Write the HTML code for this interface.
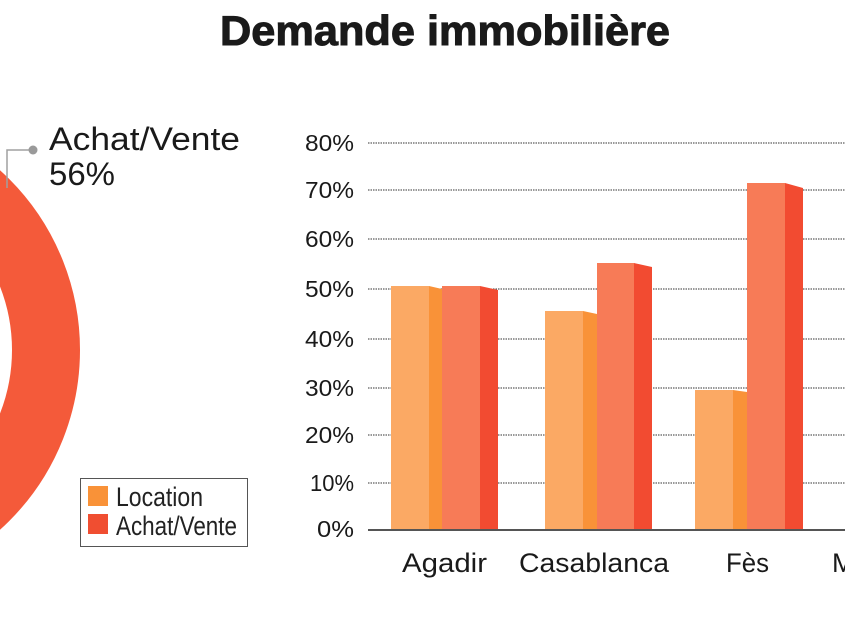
<!DOCTYPE html>
<html><head><meta charset="utf-8"><style>
html,body{margin:0;padding:0;background:#fff;width:845px;height:619px;overflow:hidden}
svg{display:block}
</style></head><body>
<svg width="845" height="619" xmlns="http://www.w3.org/2000/svg" font-family="Liberation Sans, sans-serif">
<text x="445" y="45" text-anchor="middle" font-size="42" font-weight="bold" fill="#1a1a1a" stroke="#1a1a1a" stroke-width="1" textLength="450" lengthAdjust="spacingAndGlyphs">Demande immobilière</text>
<!-- donut -->
<circle cx="-162" cy="350" r="208" fill="none" stroke="#f45a3a" stroke-width="68"/>
<polyline points="7,188 7,150 33,150" fill="none" stroke="#a0a0a0" stroke-width="1.5"/>
<circle cx="33" cy="150" r="4.5" fill="#9a9a9a"/>
<text x="49" y="150" font-size="32" fill="#1a1a1a" textLength="191" lengthAdjust="spacingAndGlyphs">Achat/Vente</text>
<text x="49" y="185" font-size="32" fill="#1a1a1a" textLength="66" lengthAdjust="spacingAndGlyphs">56%</text>
<!-- legend -->
<rect x="80.5" y="478.5" width="167" height="68" fill="#fff" stroke="#555" stroke-width="1"/>
<rect x="88" y="486" width="20" height="20" fill="#f99238"/>
<rect x="88" y="514" width="20" height="20" fill="#f04e31"/>
<text x="116" y="506" font-size="27" fill="#222" textLength="87" lengthAdjust="spacingAndGlyphs">Location</text>
<text x="116" y="535" font-size="27" fill="#222" textLength="121" lengthAdjust="spacingAndGlyphs">Achat/Vente</text>
<!-- grid -->
<g stroke="#333" stroke-width="1" stroke-dasharray="1.5,1">
<line x1="368" y1="143" x2="845" y2="143"/>
<line x1="368" y1="190" x2="845" y2="190"/>
<line x1="368" y1="239" x2="845" y2="239"/>
<line x1="368" y1="289" x2="845" y2="289"/>
<line x1="368" y1="339" x2="845" y2="339"/>
<line x1="368" y1="388" x2="845" y2="388"/>
<line x1="368" y1="435" x2="845" y2="435"/>
<line x1="368" y1="483" x2="845" y2="483"/>
</g>
<g font-size="23" fill="#1a1a1a" text-anchor="end">
<text x="354" y="151" textLength="49" lengthAdjust="spacingAndGlyphs">80%</text>
<text x="354" y="198" textLength="49" lengthAdjust="spacingAndGlyphs">70%</text>
<text x="354" y="247" textLength="49" lengthAdjust="spacingAndGlyphs">60%</text>
<text x="354" y="297" textLength="49" lengthAdjust="spacingAndGlyphs">50%</text>
<text x="354" y="347" textLength="49" lengthAdjust="spacingAndGlyphs">40%</text>
<text x="354" y="396" textLength="49" lengthAdjust="spacingAndGlyphs">30%</text>
<text x="354" y="443" textLength="49" lengthAdjust="spacingAndGlyphs">20%</text>
<text x="354" y="491" textLength="44" lengthAdjust="spacingAndGlyphs">10%</text>
<text x="354" y="537" textLength="37" lengthAdjust="spacingAndGlyphs">0%</text>
</g>
<!-- bars -->
<g>
<rect x="391" y="286" width="38" height="244" fill="#fba964"/>
<polygon points="429,286 442,289 442,530 429,530" fill="#f99238"/>
<rect x="442" y="286" width="38" height="244" fill="#f77b57"/>
<polygon points="480,286 498,290 498,530 480,530" fill="#f24b31"/>

<rect x="545" y="311" width="38" height="219" fill="#fba964"/>
<polygon points="583,311 597,314 597,530 583,530" fill="#f99238"/>
<rect x="597" y="263" width="37" height="267" fill="#f77b57"/>
<polygon points="634,263 652,267 652,530 634,530" fill="#f24b31"/>

<rect x="695" y="390" width="38" height="140" fill="#fba964"/>
<polygon points="733,390 747,392 747,530 733,530" fill="#f99238"/>
<rect x="747" y="183" width="38" height="347" fill="#f77b57"/>
<polygon points="785,183 803,188 803,530 785,530" fill="#f24b31"/>
</g>
<line x1="368" y1="530" x2="845" y2="530" stroke="#555" stroke-width="2"/>
<g font-size="27" fill="#1a1a1a">
<text x="402" y="572" textLength="85" lengthAdjust="spacingAndGlyphs">Agadir</text>
<text x="519" y="572" textLength="150" lengthAdjust="spacingAndGlyphs">Casablanca</text>
<text x="726" y="572" textLength="43" lengthAdjust="spacingAndGlyphs">Fès</text>
<text x="832" y="572">M</text>
</g>
</svg>
</body></html>
